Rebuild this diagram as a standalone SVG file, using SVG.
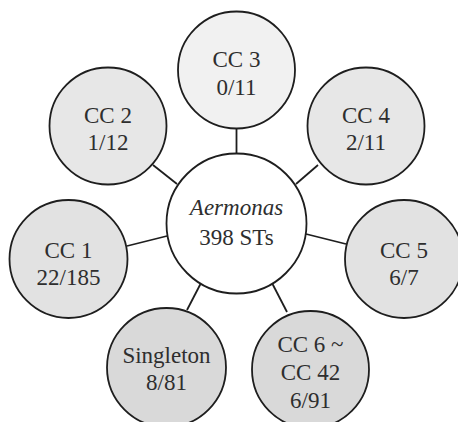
<svg xmlns="http://www.w3.org/2000/svg" width="458" height="422" viewBox="0 0 458 422">
<style>
.n{stroke:#1e1e1e;stroke-width:1.8}
.c{stroke:#1e1e1e;stroke-width:1.8;fill:none}
.t text{font-size:23px;fill:#2e2e2e;text-anchor:middle}
.l1{fill:#f1f1f1}.l2{fill:#e7e7e7}.l3{fill:#e2e2e2}.l4{fill:#d9d9d9}
</style>
<rect width="458" height="422" fill="#fff"/>
<g id="connectors">
<line class="c" x1="236.5" y1="128" x2="236.5" y2="154"/>
<line class="c" x1="153" y1="165" x2="177" y2="184"/>
<line class="c" x1="318" y1="165" x2="296" y2="184"/>
<line class="c" x1="127" y1="246" x2="167" y2="236"/>
<line class="c" x1="306" y1="234" x2="346" y2="244"/>
<line class="c" x1="201" y1="283" x2="187" y2="310"/>
<line class="c" x1="272" y1="283" x2="287" y2="312"/>
</g>
<g class="t" style="font-family:'Times New Roman','Liberation Serif',Tinos,'DejaVu Serif',serif">
<g id="center">
<circle class="n" cx="236.5" cy="223.5" r="70" fill="#fff"/>
<text x="236.5" y="215" font-style="italic">Aermonas</text>
<text x="236.5" y="245">398 STs</text>
</g>
<g id="cc3">
<circle class="n l1" cx="236.5" cy="70" r="58.5"/>
<text x="236.5" y="67">CC 3</text>
<text x="236.5" y="95">0/11</text>
</g>
<g id="cc2">
<circle class="n l2" cx="108" cy="126" r="58.5"/>
<text x="108" y="123">CC 2</text>
<text x="108" y="150">1/12</text>
</g>
<g id="cc4">
<circle class="n l2" cx="366" cy="126" r="58.5"/>
<text x="366" y="123">CC 4</text>
<text x="366" y="150">2/11</text>
</g>
<g id="cc1">
<circle class="n l3" cx="68.5" cy="259" r="59"/>
<text x="68.5" y="258">CC 1</text>
<text x="68.5" y="285">22/185</text>
</g>
<g id="cc5">
<circle class="n l3" cx="404" cy="259" r="59"/>
<text x="404" y="258">CC 5</text>
<text x="404" y="285">6/7</text>
</g>
<g id="singleton">
<circle class="n l4" cx="166.5" cy="367.5" r="59.5"/>
<text x="166.5" y="363">Singleton</text>
<text x="166.5" y="390">8/81</text>
</g>
<g id="cc6">
<circle class="n l4" cx="310.5" cy="369.5" r="58.5"/>
<text x="310.5" y="352">CC 6 ~</text>
<text x="310.5" y="380">CC 42</text>
<text x="310.5" y="408">6/91</text>
</g>
</g>
</svg>
